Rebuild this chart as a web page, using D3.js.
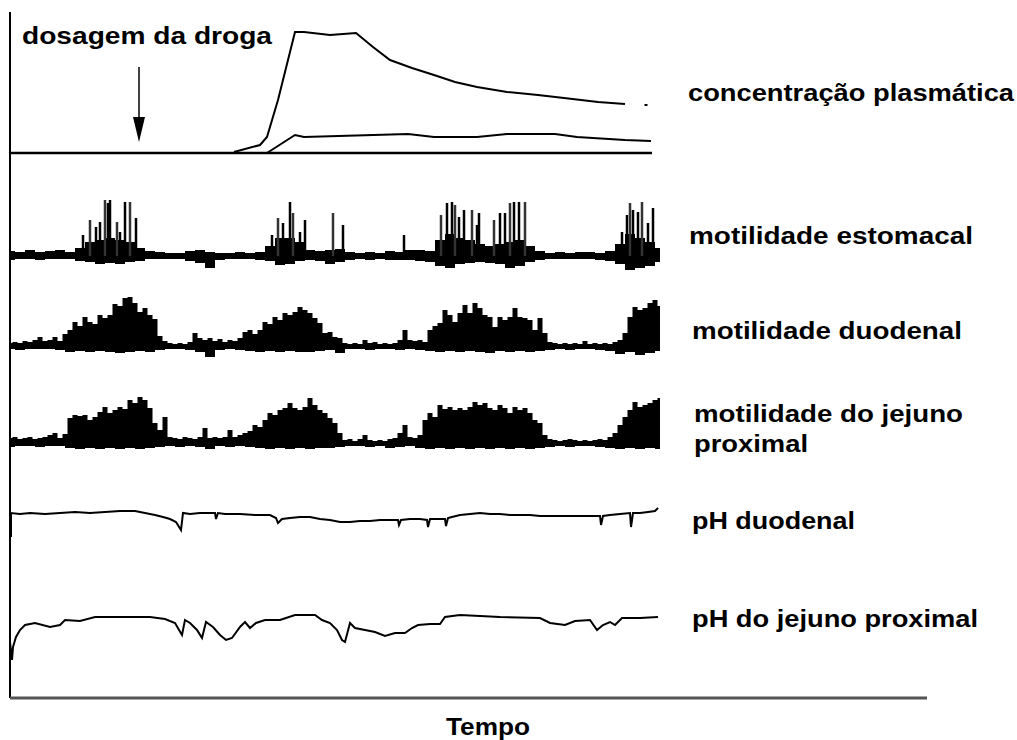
<!DOCTYPE html>
<html>
<head>
<meta charset="utf-8">
<script src="https://cdn.jsdelivr.net/npm/d3@7"></script>
<style>
  body { margin: 0; background: #fff; }
  text { font-family: "Liberation Sans", Arial, sans-serif; font-weight: bold; font-size: 23px; fill: #000; }
</style>
</head>
<body>
<svg width="1017" height="740"></svg>
<script>
// ---- data (time in arbitrary units, amplitudes in arbitrary units) ----
var trackNames = ["concentração plasmática", "motilidade estomacal", "motilidade duodenal",
                  "motilidade do jejuno", "proximal", "pH duodenal", "pH do jejuno proximal"];
var doseLabel = "dosagem da droga";
var axisLabel = "Tempo";
var doseTime = 129;

// plasma concentration, two curves
var concTimes = [224,250,257,268,285,294,320,346,363,380,402,424,445,467,497,528,554,588,615];
var concHigh  = [1,8,16,53,121,121,118,120,106,93,85,78,71,66,61,58,55,51,49];
var concLowTimes = [257,285,294,398,424,467,497,545,567,615,641];
var concLow      = [0,18,16,19,16,16,19,19,16,13,12];
var concDot = [636, 48];

// stomach: contraction spikes + noise band (sampled every 10)
var stomachSpikeTimes = [73,80,86,90,95,98,100,107,110,115,120,126,
                         262,268,273,280,283,290,295,323,333,394,
                         431,437,442,445,449,454,462,467,469,484,490,495,500,504,509,515,
                         612,617,620,623,628,632,638,643];
var stomachSpikes = [21,36,29,34,56,53,56,34,24,54,54,38,
                     21,38,33,54,43,24,36,43,31,21,
                     41,53,54,51,39,46,46,31,43,36,43,43,53,54,54,54,
                     24,41,53,46,44,54,33,48];
var stomachUpper = [5,4,6,4,5,6,4,8,14,16,
                    18,16,14,8,5,4,3,3,5,6,
                    4,3,3,4,3,4,10,18,18,14,
                    6,5,6,7,4,3,4,3,5,4,
                    6,6,5,16,22,18,16,12,10,12,
                    14,16,10,5,3,4,3,4,4,3,
                    5,12,22,18,14,8];
var stomachLower = [-4,-3,-3,-4,-3,-3,-3,-5,-6,-8,
                    -7,-8,-6,-5,-3,-3,-3,-3,-5,-7,
                    -12,-4,-3,-3,-3,-4,-5,-9,-8,-5,
                    -4,-5,-8,-6,-4,-3,-4,-3,-4,-4,
                    -4,-5,-6,-10,-12,-8,-7,-6,-7,-8,
                    -12,-10,-6,-4,-3,-3,-3,-3,-3,-4,
                    -5,-8,-14,-12,-10,-6];

// duodenum: upper envelope every 5, lower every 10
var duodUpper = [3,4,3,5,4,6,9,5,6,9,
                 5,12,16,24,20,29,24,22,31,28,
                 31,42,40,48,49,43,34,38,31,27,
                 10,5,3,2,3,2,4,13,8,6,
                 8,5,7,4,6,5,8,14,16,12,
                 16,24,22,29,26,33,31,34,39,36,
                 33,28,23,13,14,9,8,3,2,3,
                 2,6,3,4,2,3,2,3,6,16,
                 6,5,6,4,16,20,23,36,31,24,
                 33,41,33,43,38,31,29,19,29,26,
                 29,38,29,28,26,16,28,13,4,3,
                 2,3,2,3,2,5,2,3,2,3,
                 2,4,6,13,29,39,36,38,43,46,
                 40];
var duodLower = [-3,-4,-3,-3,-3,-4,-6,-5,-6,-5,
                 -6,-7,-6,-5,-6,-4,-3,-3,-4,-6,
                 -11,-4,-3,-4,-5,-6,-5,-6,-5,-6,
                 -6,-5,-4,-7,-3,-3,-4,-3,-3,-4,
                 -3,-4,-5,-6,-5,-6,-5,-6,-7,-5,
                 -6,-5,-6,-5,-4,-3,-4,-3,-3,-4,
                 -5,-8,-6,-9,-7,-5];

// proximal jejunum
var jejUpper = [5,6,4,5,6,4,5,6,8,10,
                5,9,25,28,27,28,23,26,31,36,
                30,33,36,34,43,40,46,43,35,20,
                13,26,6,5,4,6,5,4,6,15,
                5,6,5,6,13,6,8,10,12,18,
                16,23,30,28,33,35,40,35,33,36,
                45,38,33,30,25,20,10,3,4,2,
                4,8,3,2,3,2,4,5,10,18,
                6,5,8,23,30,26,38,34,36,33,
                35,33,36,41,38,40,35,33,38,35,
                30,36,33,35,30,23,20,8,4,3,
                2,3,4,3,2,3,2,3,4,3,
                6,10,18,26,33,41,36,38,40,43,
                45];
var jejLower = [-4,-3,-3,-4,-3,-3,-5,-6,-5,-6,
                -5,-6,-5,-6,-5,-4,-3,-4,-3,-4,
                -6,-3,-4,-3,-4,-5,-6,-5,-6,-5,
                -6,-5,-5,-4,-3,-3,-4,-3,-5,-4,
                -3,-5,-6,-5,-6,-5,-6,-5,-6,-5,
                -6,-5,-6,-5,-4,-3,-4,-3,-3,-4,
                -5,-6,-5,-6,-5,-6];

// duodenal pH (deviation from resting level)
var phDuoTimes = [1,1,10,20,35,50,65,80,95,110,
                  125,135,145,153,160,166,171,173,180,190,
                  200,205,206,208,215,230,245,260,266,268,
                  272,280,290,300,310,320,330,340,350,360,
                  370,380,388,389,391,400,410,417,418,420,
                  430,435,436,438,442,450,460,470,480,490,
                  500,510,520,530,540,550,560,570,580,590,
                  591,593,600,610,620,621,623,630,638,645,
                  648];
var phDuo = [-24,0,-1,0,-1,0,1,0,1,2,
             2,0,-2,-4,-6,-9,-17,0,-1,0,
             0,0,-6,0,-1,-1,-2,-2,-5,-10,
             -6,-5,-4,-4,-6,-7,-9,-9,-8,-8,
             -7,-7,-7,-12,-7,-6,-6,-7,-14,-6,
             -6,-6,-13,-5,-4,-2,-1,0,-1,-1,
             -2,-2,-2,-3,-3,-3,-3,-3,-3,-3,
             -12,-3,-2,-1,0,-14,0,0,1,2,
             5];

// proximal jejunum pH
var phJejTimes = [0,2,3,6,10,15,25,40,50,55,
                  70,85,110,140,155,165,172,175,180,187,
                  192,196,203,210,216,222,230,235,240,246,
                  255,270,285,305,312,320,327,332,335,340,
                  345,355,365,375,385,395,402,408,420,430,
                  435,450,490,530,540,555,565,580,587,593,
                  600,605,612,630,648];
var phJej = [-25,-43,-30,-20,-13,-8,-6,-10,-8,-3,
             -4,0,0,0,-2,-6,-18,-3,-6,-13,
             -21,-5,-10,-18,-23,-21,-10,-5,-11,-6,
             -3,-3,2,2,-3,-6,-13,-23,-25,-6,
             -11,-13,-15,-19,-16,-16,-11,-8,-7,-7,
             0,2,0,-1,-6,-8,-4,-3,-13,-8,
             -5,-8,-1,-1,0];

// ---- drawing ----
var svg = d3.select("svg");
svg.append("rect").attr("width", 1017).attr("height", 740).attr("fill", "#fff");

var x = d3.scaleLinear().domain([0, 650]).range([10, 660]);

function zip(times, vals) { return times.map(function(t, i) { return [t, vals[i]]; }); }
function grid(vals, step) { return vals.map(function(v, i) { return [i * step, v]; }); }

// panel scales (zero = baseline of each trace)
var yConc = d3.scaleLinear().domain([0, 125]).range([153, 28]);
var yStom = d3.scaleLinear().domain([-20, 60]).range([276, 196]);
var yDuod = d3.scaleLinear().domain([-20, 60]).range([366, 286]);
var yJej  = d3.scaleLinear().domain([-20, 60]).range([463, 383]);
var yPhD  = d3.scaleLinear().domain([-25, 10]).range([538, 503]);
var yPhJ  = d3.scaleLinear().domain([-45, 5]).range([662, 612]);

function lineFor(y) {
  return d3.line().x(function(d) { return x(d[0]); }).y(function(d) { return y(d[1]); });
}
function areaFor(y) {
  return d3.area().x(function(d) { return x(d[0]); })
    .y0(y(0)).y1(function(d) { return y(d[1]); })
    .curve(d3.curveStep);
}

// axes
svg.append("line").attr("x1", 10).attr("x2", 10).attr("y1", 12).attr("y2", 698)
  .attr("stroke", "#000").attr("stroke-width", 2);
svg.append("line").attr("x1", 10).attr("x2", 927).attr("y1", 698).attr("y2", 698)
  .attr("stroke", "#555").attr("stroke-width", 3);

// concentration panel
svg.append("line").attr("x1", 10).attr("x2", 652).attr("y1", yConc(0)).attr("y2", yConc(0))
  .attr("stroke", "#000").attr("stroke-width", 2.5);
svg.append("path").datum(zip(concTimes, concHigh)).attr("d", lineFor(yConc))
  .attr("fill", "none").attr("stroke", "#000").attr("stroke-width", 2);
svg.append("path").datum(zip(concLowTimes, concLow)).attr("d", lineFor(yConc))
  .attr("fill", "none").attr("stroke", "#000").attr("stroke-width", 2);
svg.append("rect").attr("x", x(concDot[0]) - 1.5).attr("y", yConc(concDot[1]) - 1)
  .attr("width", 3).attr("height", 2).attr("fill", "#000");

// dose arrow
var ax = x(doseTime);
svg.append("line").attr("x1", ax).attr("x2", ax).attr("y1", 67).attr("y2", 120)
  .attr("stroke", "#000").attr("stroke-width", 1.5);
svg.append("path").attr("d", "M" + (ax - 6) + ",117L" + (ax + 6) + ",117L" + ax + ",142Z")
  .attr("fill", "#000");

// motility traces
function motility(y, upper, upStep, lower, lowStep) {
  svg.append("path").datum(grid(upper, upStep)).attr("d", areaFor(y)).attr("fill", "#000");
  svg.append("path").datum(grid(lower, lowStep)).attr("d", areaFor(y)).attr("fill", "#000");
  svg.append("line").attr("x1", x(0)).attr("x2", x(650)).attr("y1", y(0)).attr("y2", y(0))
    .attr("stroke", "#000").attr("stroke-width", 4);
}
motility(yStom, stomachUpper, 10, stomachLower, 10);
motility(yDuod, duodUpper, 5, duodLower, 10);
motility(yJej, jejUpper, 5, jejLower, 10);

svg.append("g").selectAll("line").data(zip(stomachSpikeTimes, stomachSpikes)).enter().append("line")
  .attr("x1", function(d) { return x(d[0]); }).attr("x2", function(d) { return x(d[0]); })
  .attr("y1", yStom(0)).attr("y2", function(d) { return yStom(d[1]); })
  .attr("stroke", function(d, i) { return i % 3 === 1 ? "#333" : "#000"; })
  .attr("stroke-width", 2.5);

// pH traces
svg.append("path").datum(zip(phDuoTimes, phDuo)).attr("d", lineFor(yPhD))
  .attr("fill", "none").attr("stroke", "#000").attr("stroke-width", 2);
svg.append("path").datum(zip(phJejTimes, phJej)).attr("d", lineFor(yPhJ))
  .attr("fill", "none").attr("stroke", "#000").attr("stroke-width", 2);

// labels (stretched to the width they have in the figure)
var labelLayout = [
  { x: 688, y: 101, w: 326 },
  { x: 689, y: 244, w: 284 },
  { x: 692, y: 339, w: 270 },
  { x: 694, y: 422, w: 269 },
  { x: 694, y: 452, w: 114 },
  { x: 692, y: 529, w: 163 },
  { x: 692, y: 627, w: 286 }
];
svg.append("g").selectAll("text").data(trackNames).enter().append("text")
  .attr("x", function(d, i) { return labelLayout[i].x; })
  .attr("y", function(d, i) { return labelLayout[i].y; })
  .attr("textLength", function(d, i) { return labelLayout[i].w; })
  .attr("lengthAdjust", "spacingAndGlyphs")
  .text(function(d) { return d; });

svg.append("text").attr("x", 22).attr("y", 44).attr("textLength", 250)
  .attr("lengthAdjust", "spacingAndGlyphs").text(doseLabel);
svg.append("text").attr("x", 446).attr("y", 735).attr("textLength", 84)
  .attr("lengthAdjust", "spacingAndGlyphs").text(axisLabel);
</script>
</body>
</html>
